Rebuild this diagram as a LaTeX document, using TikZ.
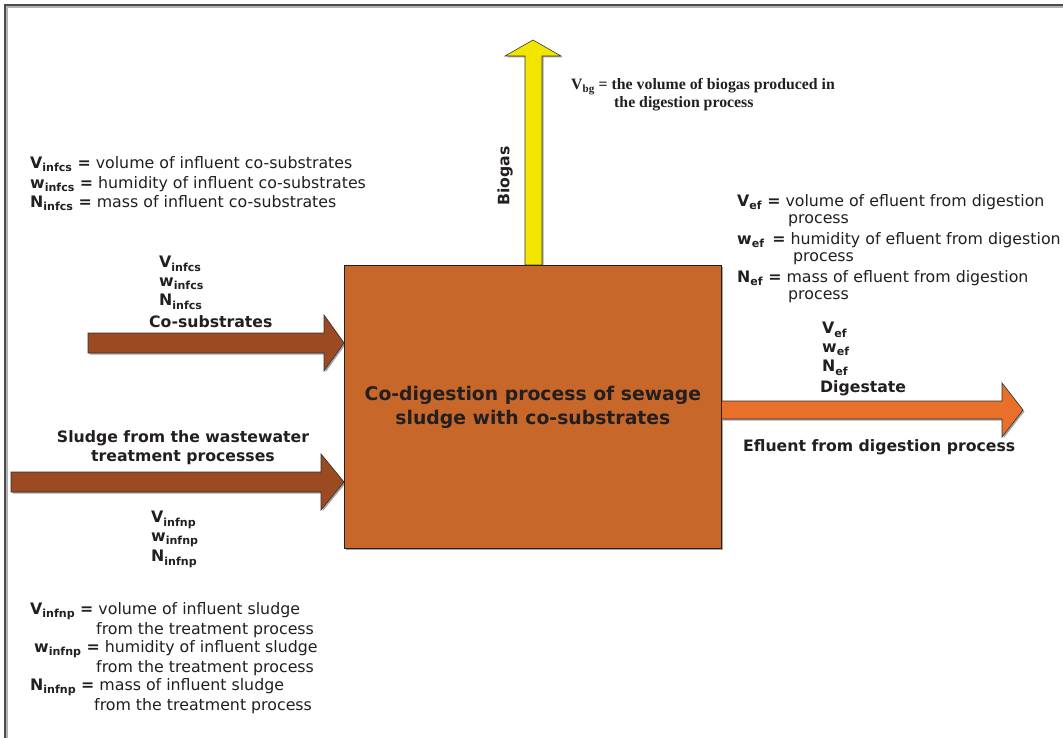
\documentclass[tikz,border=0pt]{standalone}
\usepackage{fontspec}
\setmainfont{DejaVu Sans}
\newfontfamily\timesf{Liberation Serif}
\definecolor{tc}{HTML}{231F20}
\definecolor{boxc}{HTML}{C8672A}
\definecolor{brownc}{HTML}{9B4A22}
\definecolor{orangec}{HTML}{E8702A}
\definecolor{yellowc}{HTML}{F2E600}
\newcommand\sbs[1]{\textsubscript{\bfseries #1}}
\newcommand\bq{\textbf{=}}
\begin{document}
\begin{tikzpicture}[x=1pt,y=-1pt,
  font=\fontsize{15.8}{17}\selectfont,
  txt/.style={inner sep=0, text=tc, anchor=west},
  ctxt/.style={inner sep=0, text=tc},
  bld/.style={font=\bfseries\fontsize{15.7}{19}\selectfont},
  arrowfill/.style={draw=black!80, line width=0.6pt},
  shadowfill/.style={fill=black!35}]
\useasboundingbox (0,0) rectangle (1063,738);
\fill[white] (0,0) rectangle (1063,738);
% frame
\draw[black!30, line width=1.5pt] (7,738) -- (7,7) -- (1063,7);
\draw[black!70, line width=1.5pt] (5,738) -- (5,5) -- (1063,5);

% shadows
\fill[shadowfill] (526.5,267) -- (526.5,57.5) -- (506.5,57.5) -- (534.5,41.5) -- (562.5,57.5) -- (543.5,57.5) -- (543.5,267) -- cycle;
\fill[shadowfill] (89.5,334.5) -- (325.5,334.5) -- (325.5,316.5) -- (345.5,344.5) -- (325.5,372.5) -- (325.5,354.5) -- (89.5,354.5) -- cycle;
\fill[shadowfill] (12.5,473.5) -- (322.5,473.5) -- (322.5,455.5) -- (345.5,483.5) -- (322.5,511.5) -- (322.5,493.5) -- (12.5,493.5) -- cycle;
\fill[shadowfill] (722.5,402.5) -- (1003.5,402.5) -- (1003.5,384.5) -- (1024.5,411.5) -- (1003.5,438.5) -- (1003.5,420.5) -- (722.5,420.5) -- cycle;
\fill[black!35] (346,267) rectangle (723,550);

% block arrows
\draw[arrowfill, fill=yellowc] (525,265) -- (525,56) -- (505,56) -- (533,40) -- (561,56) -- (542,56) -- (542,265) -- cycle;
\draw[arrowfill, fill=brownc] (88,333) -- (324,333) -- (324,315) -- (344,343) -- (324,371) -- (324,353) -- (88,353) -- cycle;
\draw[arrowfill, fill=brownc] (11,472) -- (321,472) -- (321,454) -- (344,482) -- (321,510) -- (321,492) -- (11,492) -- cycle;
\draw[arrowfill, fill=orangec] (721,401) -- (1002,401) -- (1002,383) -- (1023,410) -- (1002,437) -- (1002,419) -- (721,419) -- cycle;

% main box
\node[draw=tc, line width=0.8pt, fill=boxc, minimum width=377, minimum height=283,
      anchor=north west, inner sep=0] (box) at (344,265) {};
\node[ctxt, align=center, font=\bfseries\fontsize{18.8}{24}\selectfont] (boxtxt) at (box.center)
  {Co-digestion process of sewage\\sludge with co-substrates};

% biogas label
\node[ctxt, rotate=90, bld] (biogas) at (505,176) {Biogas};
\node[inner sep=0, text=tc, anchor=base west, font=\timesf\bfseries\fontsize{15.8}{18}\selectfont] (vbg1) at (571,90) {V\textsubscript{bg} = the volume of biogas produced in};
\node[inner sep=0, text=tc, anchor=base west, font=\timesf\bfseries\fontsize{15.8}{18}\selectfont] (vbg2) at (614,108) {the digestion process};

% top-left definitions
\node[txt] (a1) at (30,164) {\textbf{V}\sbs{infcs} \bq{} volume of influent co-substrates};
\node[txt] (a2) at (30,184) {\textbf{w}\sbs{infcs} \bq{} humidity of influent co-substrates};
\node[txt] (a3) at (30,203) {\textbf{N}\sbs{infcs} \bq{} mass of influent co-substrates};

% co-substrates labels
\node[txt] (b1) at (159,264) {\textbf{V}\sbs{infcs}};
\node[txt] (b2) at (159,284) {\textbf{w}\sbs{infcs}};
\node[txt] (b3) at (159,302) {\textbf{N}\sbs{infcs}};
\node[txt, bld] (b4) at (149,322) {Co-substrates};

% sludge labels
\node[ctxt, bld, align=center] (c0) at (183,448) {Sludge from the wastewater\\treatment processes};
\node[txt] (c1) at (151,520) {\textbf{V}\sbs{infnp}};
\node[txt] (c2) at (151,540) {\textbf{w}\sbs{infnp}};
\node[txt] (c3) at (151,559) {\textbf{N}\sbs{infnp}};

% bottom-left definitions
\node[txt] (d1) at (30,611) {\textbf{V}\sbs{infnp} \bq{} volume of influent sludge};
\node[txt] (d2) at (96,630) {from the treatment process};
\node[txt] (d3) at (34,649) {\textbf{w}\sbs{infnp} \bq{} humidity of influent sludge};
\node[txt] (d4) at (96,668) {from the treatment process};
\node[txt] (d5) at (30,687) {\textbf{N}\sbs{infnp} \bq{} mass of influent sludge};
\node[txt] (d6) at (94,706) {from the treatment process};

% right definitions
\node[txt] (e1) at (737,202) {\textbf{V}\sbs{ef} \bq{} volume of efluent from digestion};
\node[txt] (e2) at (788,221) {process};
\node[txt] (e3) at (737,240) {\textbf{w}\sbs{ef}\, \bq{} humidity of efluent from digestion};
\node[txt] (e4) at (793,259) {process};
\node[txt] (e5) at (737,278) {\textbf{N}\sbs{ef} \bq{} mass of efluent from digestion};
\node[txt] (e6) at (788,297) {process};

% effluent labels
\node[txt] (f1) at (822,330) {\textbf{V}\sbs{ef}};
\node[txt] (f2) at (822,350) {\textbf{w}\sbs{ef}};
\node[txt] (f3) at (822,368) {\textbf{N}\sbs{ef}};
\node[txt, bld] (f4) at (820,388) {Digestate};
\node[txt, bld] (f5) at (743,447) {Efluent from digestion process};
\end{tikzpicture}
\end{document}
